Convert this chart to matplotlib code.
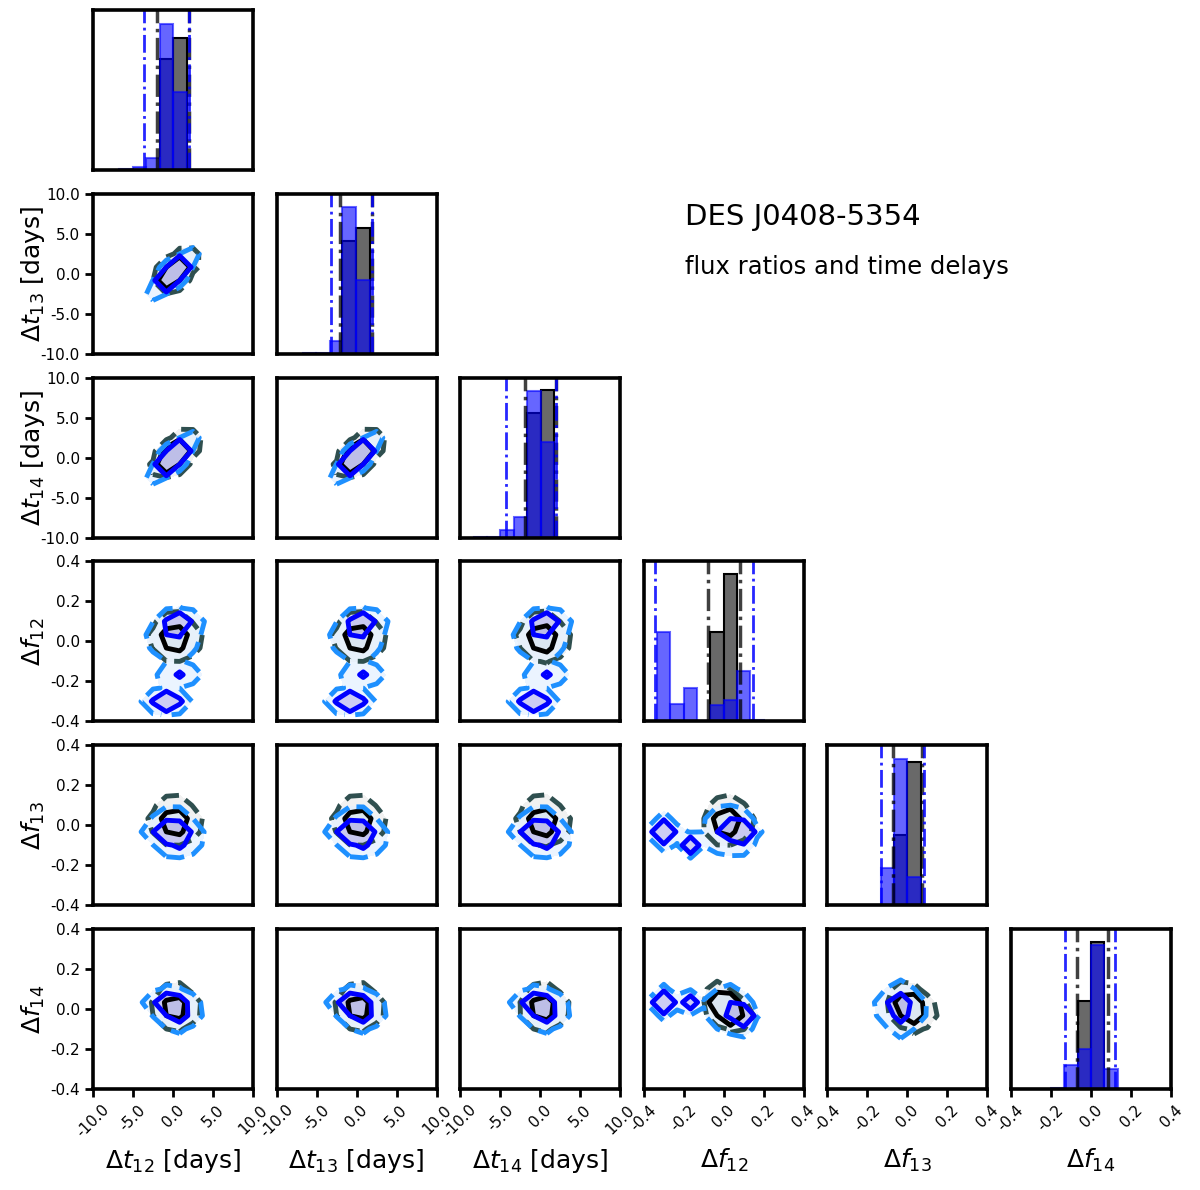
import numpy as np
import matplotlib
matplotlib.use("Agg")
import matplotlib.pyplot as plt

plt.rcParams["axes.unicode_minus"] = False

# parameters of the corner plot
labels = [r"$\Delta t_{12}$ [days]", r"$\Delta t_{13}$ [days]", r"$\Delta t_{14}$ [days]",
          r"$\Delta f_{12}$", r"$\Delta f_{13}$", r"$\Delta f_{14}$"]
ranges = [(-10, 10), (-10, 10), (-10, 10), (-0.4, 0.4), (-0.4, 0.4), (-0.4, 0.4)]
tick_t = [-10, -5, 0, 5, 10]
tick_f = [-0.4, -0.2, 0.0, 0.2, 0.4]

# 1D histograms (normalised heights)
t12_edges = [-6.7, -5.0, -3.35, -1.65, 0.03, 1.7]
t12_blue = [0.004, 0.02, 0.075, 0.914, 0.486]
t12_gray = [0, 0, 0, 0.696, 0.824]

t13_edges = [-6.7, -5.04, -3.37, -1.79, -0.04, 1.62]
t13_blue = [0.004, 0.008, 0.082, 0.92, 0.46]
t13_gray = [0, 0, 0, 0.705, 0.785]

t14_edges = [-8.33, -6.67, -5.0, -3.33, -1.67, 0.05, 1.75]
t14_blue = [0.006, 0.003, 0.05, 0.13, 0.915, 0.60]
t14_gray = [0, 0, 0, 0, 0.776, 0.92]

f12_edges = [-0.333, -0.267, -0.2, -0.133, -0.067, 0.0, 0.067, 0.133, 0.2]
f12_blue = [0.556, 0.111, 0.207, 0.0, 0.103, 0.133, 0.316, 0.01]
f12_gray = [0, 0, 0, 0, 0.56, 0.923, 0, 0]

f13_edges = [-0.133, -0.067, 0.0, 0.067, 0.133]
f13_blue = [0.234, 0.915, 0.174, 0.004]
f13_gray = [0, 0.436, 0.898, 0]

f14_edges = [-0.2, -0.133, -0.067, 0.0, 0.067, 0.133]
f14_blue = [0.006, 0.15, 0.252, 0.897, 0.124]
f14_gray = [0, 0, 0.547, 0.919, 0]

# credible interval bounds drawn as vertical lines
blue_bounds = [(-3.58, 2.0), (-3.25, 1.96), (-4.29, 1.96), (-0.345, 0.147), (-0.13, 0.085), (-0.13, 0.12)]
gray_bounds = [(-2.04, 2.0), (-2.12, 1.96), (-1.96, 1.96), (-0.078, 0.08), (-0.07, 0.073), (-0.068, 0.087)]

hist_edges = [t12_edges, t13_edges, t14_edges, f12_edges, f13_edges, f14_edges]
hist_blue = [t12_blue, t13_blue, t14_blue, f12_blue, f13_blue, f14_blue]
hist_gray = [t12_gray, t13_gray, t14_gray, f12_gray, f13_gray, f14_gray]

# posterior modes for the 2D contours (t12, t13, t14, f12, f13, f14)
gray_mean = [0.2, 0.2, 0.3, 0.015, 0.015, 0.005]
gray_sig = [1.15, 1.15, 1.15, 0.045, 0.045, 0.045]
gray_corr_tt = 0.75
gray_corr_f = [[1.0, 0.1, -0.5], [0.1, 1.0, -0.3], [-0.5, -0.3, 1.0]]

blue_w = [0.30, 0.22, 0.12, 0.36]
blue_means = [[0.0, 0.0, 0.0, 0.02, -0.02, 0.0],
              [0.8, 0.8, 0.8, 0.1, -0.04, -0.04],
              [0.8, 0.8, 0.8, -0.167, -0.1, 0.033],
              [-0.8, -0.8, -0.8, -0.3, -0.033, 0.033]]
blue_sigs = [[1.4, 1.4, 1.4, 0.055, 0.055, 0.055],
             [1.0, 1.0, 1.0, 0.02, 0.02, 0.02],
             [1.0, 1.0, 1.0, 0.02, 0.02, 0.02],
             [1.0, 1.0, 1.0, 0.02, 0.02, 0.02]]
blue_corr_tt = 0.85


def make_cov(sig, corr_tt, corr_f):
    R = np.eye(6)
    for a in range(3):
        for b in range(3):
            if a != b:
                R[a, b] = corr_tt
    R[3:, 3:] = np.array(corr_f)
    s = np.array(sig)
    return R * np.outer(s, s)


gray_comps = [(1.0, np.array(gray_mean), make_cov(gray_sig, gray_corr_tt, gray_corr_f))]
blue_comps = [(w, np.array(m), make_cov(s, blue_corr_tt, np.eye(3)))
              for w, m, s in zip(blue_w, blue_means, blue_sigs)]


def binned(comps, ix, iy, nb=12, sub=8):
    (x0, x1), (y0, y1) = ranges[ix], ranges[iy]
    fx = x0 + (np.arange(nb * sub) + 0.5) * (x1 - x0) / (nb * sub)
    fy = y0 + (np.arange(nb * sub) + 0.5) * (y1 - y0) / (nb * sub)
    X, Y = np.meshgrid(fx, fy)
    P = np.zeros_like(X)
    for w, m, C in comps:
        c = C[np.ix_([ix, iy], [ix, iy])]
        inv = np.linalg.inv(c)
        dx, dy = X - m[ix], Y - m[iy]
        q = inv[0, 0] * dx * dx + 2 * inv[0, 1] * dx * dy + inv[1, 1] * dy * dy
        P += w * np.exp(-0.5 * q) / (2 * np.pi * np.sqrt(np.linalg.det(c)))
    H = P.reshape(nb, sub, nb, sub).sum(axis=(1, 3))
    cx = x0 + (np.arange(nb) + 0.5) * (x1 - x0) / nb
    cy = y0 + (np.arange(nb) + 0.5) * (y1 - y0) / nb
    return cx, cy, H


def mass_levels(H, masses=(0.95, 0.68)):
    flat = np.sort(H.ravel())[::-1]
    cum = np.cumsum(flat) / flat.sum()
    out = []
    for m in masses:
        k = min(np.searchsorted(cum, m), len(flat) - 1)
        out.append(flat[k])
    lv = np.array(out)
    for k in range(1, len(lv)):
        if lv[k] <= lv[k - 1]:
            lv[k] = lv[k - 1] * 1.0001
    return lv


def draw_contours(ax, comps, ix, iy, fills, line_cols, alpha):
    cx, cy, H = binned(comps, ix, iy)
    lv = mass_levels(H)
    top = H.max() * 1.01
    ax.contourf(cx, cy, H, levels=[lv[0], lv[1], top], colors=fills, alpha=alpha)
    ax.contour(cx, cy, H, levels=[lv[0]], colors=[line_cols[0]], linewidths=3.5, linestyles="--")
    ax.contour(cx, cy, H, levels=[lv[1]], colors=[line_cols[1]], linewidths=3.5, linestyles="-")


W, Hpx = 1200, 1190
fig = plt.figure(figsize=(12, 11.9), dpi=100)
n = 6
for i in range(n):
    for j in range(i + 1):
        left = 93 + j * 183.6
        top = 10 + i * 183.8
        ax = fig.add_axes([left / W, 1 - (top + 160) / Hpx, 160 / W, 160 / Hpx])
        for sp in ax.spines.values():
            sp.set_linewidth(2.6)
        ax.set_xlim(ranges[j])
        if i == j:
            e = np.array(hist_edges[i])
            ax.bar(e[:-1], hist_gray[i], width=np.diff(e), align="edge",
                   color="dimgray", edgecolor="black", linewidth=1.5)
            ax.bar(e[:-1], hist_blue[i], width=np.diff(e), align="edge",
                   color="blue", alpha=0.6, edgecolor="blue", linewidth=1.5)
            for b in gray_bounds[i]:
                ax.axvline(b, color="black", alpha=0.75, linestyle="-.", linewidth=2.5)
            for b in blue_bounds[i]:
                ax.axvline(b, color="blue", alpha=0.85, linestyle="-.", linewidth=2)
            ax.set_ylim(0, 1)
        else:
            draw_contours(ax, gray_comps, j, i, ["#f0f0f0", "#c6cacf"],
                          ["darkslategray", "black"], 0.9)
            draw_contours(ax, blue_comps, j, i, ["#e3f0ff", "#b8b8f0"],
                          ["dodgerblue", "blue"], 0.7)
            ax.set_ylim(ranges[i])

        ax.tick_params(length=6, width=2, labelsize=11, direction="out")
        if i == n - 1:
            ax.set_xticks(tick_t if j < 3 else tick_f)
            ax.set_xticklabels(["%.1f" % v for v in (tick_t if j < 3 else tick_f)])
            ax.tick_params(axis="x", labelrotation=45)
            ax.set_xlabel(labels[j], fontsize=18)
            ax.xaxis.set_label_coords(0.5, -0.36)
        else:
            ax.set_xticks([])
        if j == 0 and i > 0:
            ax.set_yticks(tick_t if i < 3 else tick_f)
            ax.set_yticklabels(["%.1f" % v for v in (tick_t if i < 3 else tick_f)])
            ax.set_ylabel(labels[i], fontsize=18)
            ax.yaxis.set_label_coords(-0.29, 0.5)
        else:
            ax.set_yticks([])

fig.text(685 / W, 1 - 217 / Hpx, "DES J0408-5354", fontsize=21, va="center")
fig.text(685 / W, 1 - 267 / Hpx, "flux ratios and time delays", fontsize=17.5, va="center")

fig.savefig("out.png", dpi=100)
